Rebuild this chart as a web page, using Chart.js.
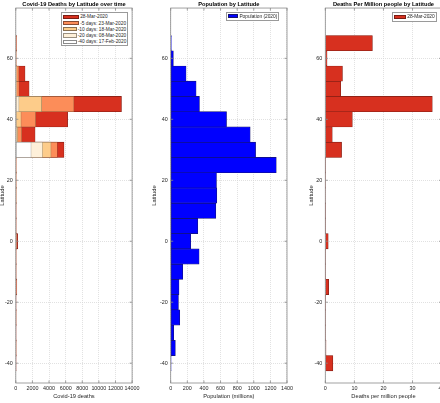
<!DOCTYPE html>
<html>
<head>
<meta charset="utf-8">
<script src="https://cdn.jsdelivr.net/npm/chart.js@4.4.1/dist/chart.umd.min.js"></script>
<style>
  html, body { margin: 0; padding: 0; background: #fff; }
  body { width: 440px; height: 403px; position: relative; overflow: hidden; font-family: "Liberation Sans", Arial, sans-serif; }
  canvas { position: absolute; top: 0; }
  .legend { position: absolute; background: #fff; border: 0.8px solid #9a9a9a; box-sizing: border-box; color: #262626; font-size: 4.8px; padding: 0.6px 1px; }
  .legend .row { display: flex; align-items: center; height: 6.2px; white-space: nowrap; }
  .legend .patch { display: inline-block; width: 16px; height: 4.2px; margin-right: 1.2px; box-sizing: border-box; border: 0.6px solid #6b2a22; }
</style>
</head>
<body>
<canvas id="deaths" width="150" height="403" style="left:-5px"></canvas>
<canvas id="population" width="150" height="403" style="left:150px"></canvas>
<canvas id="perMillion" width="150" height="403" style="left:305px"></canvas>
<script>
// latitude bands (centre of 5 degree bins)
const latitudes = [-40, -35, -30, -25, -20, -15, -10, -5, 0, 5, 10, 15, 20, 25, 30, 35, 40, 45, 50, 55, 60, 65];
const latTicks = [-40, -20, 0, 20, 40, 60];

// cumulative covid-19 deaths in each band at each date
const deaths28Mar = [13, 15, 5, 5, 5, 120, 5, 10, 230, 10, 5, 40, 40, 40, 5800, 2320, 6240, 12720, 1600, 1110, 20, 90];
const deaths23Mar = [0, 2, 0, 1, 0, 25, 1, 2, 50, 2, 1, 8, 10, 10, 5000, 720, 2400, 7000, 400, 380, 5, 10];
const deaths18Mar = [0, 0, 0, 0, 0, 3, 0, 0, 10, 0, 0, 2, 3, 3, 4240, 240, 640, 3120, 130, 110, 1, 1];
const deaths08Mar = [0, 0, 0, 0, 0, 0, 0, 0, 1, 0, 0, 0, 0, 0, 3200, 56, 40, 380, 3, 3, 0, 0];
const deaths17Feb = [0, 0, 0, 0, 0, 0, 0, 0, 0, 0, 0, 0, 0, 0, 1840, 1, 0, 0, 0, 0, 0, 0];
const deathLabels = ['28-Mar-2020', '-5 days: 23-Mar-2020', '-10 days: 18-Mar-2020', '-20 days: 08-Mar-2020', '-40 days: 17-Feb-2020'];
const deathColors = ['#d7301f', '#fc8d59', '#fdcc8a', '#fef0d9', '#ffffff'];
const deathTicks = [0, 2000, 4000, 6000, 8000, 10000, 12000, 14000];

// population (millions, 2020)
const population = [5, 56, 36, 109, 93, 100, 145, 342, 241, 326, 543, 555, 551, 1271, 1022, 957, 672, 346, 306, 185, 32, 8];
const popTicks = [0, 200, 400, 600, 800, 1000, 1200, 1400];

// deaths per million people, 28-Mar-2020
const perMillion = [2.6, 0.25, 0.05, 0.05, 0.05, 1.15, 0.04, 0.03, 1.0, 0.03, 0.01, 0.15, 0.07, 0.03, 5.6, 2.4, 9.3, 36.8, 5.3, 5.9, 0.6, 16.2];
const perMillionTicks = [0, 10, 20, 30, 40];

const FONT = '"Liberation Sans", Arial, sans-serif';
const TXT = '#262626';

function points(values) {
    return latitudes.map((lat, i) => ({ y: lat, x: values[i] }));
}

// box around the axes with small inward ticks, like the matlab figure
const boxTicks = {
    id: 'boxTicks',
    afterDraw(chart) {
        const { ctx, chartArea: a, scales: { x, y } } = chart;
        ctx.save();
        ctx.strokeStyle = '#8a8a8a';
        ctx.lineWidth = 0.8;
        ctx.strokeRect(a.left, a.top, a.right - a.left, a.bottom - a.top);
        ctx.beginPath();
        x.ticks.forEach(t => {
            const px = x.getPixelForValue(t.value);
            ctx.moveTo(px, a.bottom); ctx.lineTo(px, a.bottom - 2.5);
            ctx.moveTo(px, a.top); ctx.lineTo(px, a.top + 2.5);
        });
        y.ticks.forEach(t => {
            const py = y.getPixelForValue(t.value);
            ctx.moveTo(a.left, py); ctx.lineTo(a.left + 2.5, py);
            ctx.moveTo(a.right, py); ctx.lineTo(a.right - 2.5, py);
        });
        ctx.stroke();
        ctx.restore();
    }
};

function makePanel(id, cfg) {
    const yWidth = cfg.yWidth;
    const areaWidth = 116.3;
    return new Chart(document.getElementById(id), {
        type: 'bar',
        data: { datasets: cfg.datasets },
        options: {
            indexAxis: 'y',
            responsive: false,
            animation: false,
            events: [],
            layout: { padding: { left: 0, top: 0, bottom: 0, right: 150 - yWidth - areaWidth } },
            datasets: { bar: { grouped: false, barPercentage: 1, categoryPercentage: 1, borderSkipped: false } },
            plugins: {
                legend: { display: false },
                tooltip: { enabled: false },
                title: {
                    display: true, fullSize: false, text: cfg.title, color: '#000',
                    font: { family: FONT, size: 5.7, weight: 'bold', lineHeight: 1.2 },
                    padding: { top: 0.6, bottom: 0.6 }
                }
            },
            scales: {
                x: {
                    type: 'linear', min: 0, max: cfg.xTicks[cfg.xTicks.length - 1],
                    afterBuildTicks: s => { s.ticks = cfg.xTicks.map(v => ({ value: v })); },
                    afterFit: s => { s.height = 20; },
                    ticks: { color: TXT, padding: 2.3, font: { family: FONT, size: 5.4 }, callback: v => String(v), maxRotation: 0, autoSkip: false },
                    grid: { color: '#d4d4d4', lineWidth: 0.7, drawTicks: false },
                    border: { display: false, dash: [1, 1] },
                    title: { display: true, text: cfg.xTitle, color: TXT, font: { family: FONT, size: 5.7 }, padding: { top: 0, bottom: 3.3 } }
                },
                y: {
                    type: 'linear', min: -46.5, max: 76.5, offset: false,
                    afterBuildTicks: s => { s.ticks = latTicks.map(v => ({ value: v })); },
                    afterFit: s => { s.width = yWidth; },
                    ticks: { color: TXT, padding: 3, font: { family: FONT, size: 5.4 }, autoSkip: false },
                    grid: { color: '#d4d4d4', lineWidth: 0.7, drawTicks: false, offset: false },
                    border: { display: false, dash: [1, 1] },
                    title: { display: true, text: 'Latitude', color: TXT, font: { family: FONT, size: 5.7 }, padding: { top: cfg.yTitlePad, bottom: 0 } }
                }
            }
        },
        plugins: [boxTicks]
    });
}

function htmlLegend(left, top, width, labels, colors, edges) {
    const box = document.createElement('div');
    box.className = 'legend';
    box.style.left = left + 'px';
    box.style.top = top + 'px';
    box.style.width = width + 'px';
    labels.forEach((lab, i) => {
        const row = document.createElement('div');
        row.className = 'row';
        const patch = document.createElement('span');
        patch.className = 'patch';
        patch.style.background = colors[i];
        patch.style.borderColor = edges[i];
        const txt = document.createElement('span');
        txt.textContent = lab;
        row.appendChild(patch);
        row.appendChild(txt);
        box.appendChild(row);
    });
    document.body.appendChild(box);
}

// earliest date drawn on top, latest (largest) behind
const deathSeries = [deaths28Mar, deaths23Mar, deaths18Mar, deaths08Mar, deaths17Feb];
const deathEdges = ['#7a1d14', '#8a4a30', '#8a7050', '#9a9080', '#8a8a8a'];
const deathSets = deathSeries.map((vals, i) => ({
    label: deathLabels[i],
    data: points(vals),
    backgroundColor: deathColors[i],
    borderColor: deathEdges[i],
    borderWidth: 0.6
})).reverse();

makePanel('deaths', {
    title: 'Covid-19 Deaths by Latitude over time',
    xTitle: 'Covid-19 deaths',
    xTicks: deathTicks,
    yWidth: 20.8,
    yTitlePad: 4,
    datasets: deathSets
});

makePanel('population', {
    title: 'Population by Latitude',
    xTitle: 'Population (millions)',
    xTicks: popTicks,
    yWidth: 20.7,
    yTitlePad: 1.1,
    datasets: [{ label: 'Population (2020)', data: points(population), backgroundColor: '#0000ff', borderColor: '#14146e', borderWidth: 0.6 }]
});

makePanel('perMillion', {
    title: 'Deaths Per Million people by Latitude',
    xTitle: 'Deaths per million people',
    xTicks: perMillionTicks,
    yWidth: 20.3,
    yTitlePad: 3.1,
    datasets: [{ label: '28-Mar-2020', data: points(perMillion), backgroundColor: '#d7301f', borderColor: '#7a1d14', borderWidth: 0.6 }]
});

htmlLegend(61, 12.3, 67.3, deathLabels, deathColors, deathEdges);
htmlLegend(226, 11.7, 53.3, ['Population (2020)'], ['#0000ff'], ['#14146e']);
htmlLegend(391.7, 12.3, 45, ['28-Mar-2020'], ['#d7301f'], ['#7a1d14']);
</script>
</body>
</html>
